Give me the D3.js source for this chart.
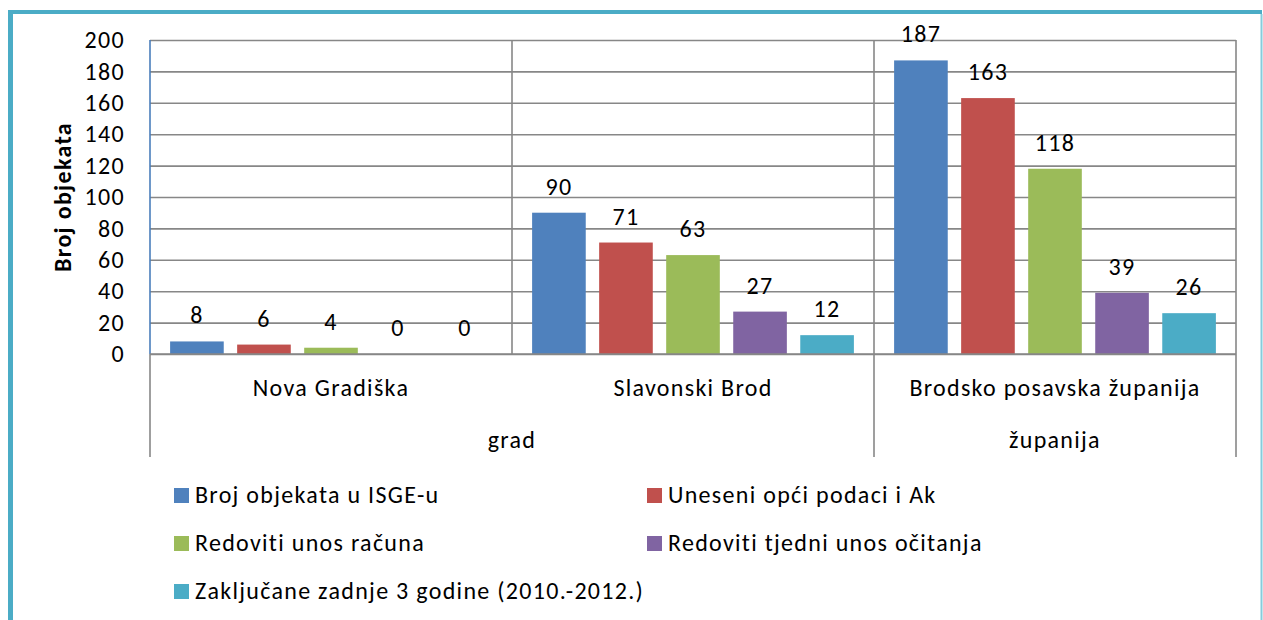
<!DOCTYPE html>
<html>
<head>
<meta charset="utf-8">
<script src="https://cdnjs.cloudflare.com/ajax/libs/d3/7.8.5/d3.min.js"></script>
<style>
  body { margin: 0; background: #fff; overflow: hidden; }
  svg { display: block; font-family: Carlito, Calibri, Lato, sans-serif; }
  svg text { font-size: 24px; letter-spacing: 1.3px; fill: #000; }
</style>
</head>
<body>
<div id="chart"></div>
<script>
const categories = ["Nova Gradiška", "Slavonski Brod", "Brodsko posavska županija"];
const categoryGroup = ["grad", "grad", "županija"];
const groupLabels = ["grad", "županija"];

const seriesNames = [
  "Broj objekata u ISGE-u",
  "Uneseni opći podaci i Ak",
  "Redoviti unos računa",
  "Redoviti tjedni unos očitanja",
  "Zaključane zadnje 3 godine (2010.-2012.)"
];
const seriesColors = ["#4F81BD", "#C0504D", "#9BBB59", "#8064A2", "#4BACC6"];

const brojObjekata   = [8, 90, 187];
const uneseniPodaci  = [6, 71, 163];
const unosRacuna     = [4, 63, 118];
const tjedniUnos     = [0, 27, 39];
const zakljucane     = [0, 12, 26];
const seriesValues = [brojObjekata, uneseniPodaci, unosRacuna, tjedniUnos, zakljucane];

const yTicks = [0, 20, 40, 60, 80, 100, 120, 140, 160, 180, 200];

const width = 1263, height = 620;
const margin = { top: 40, left: 150, right: 27 };
const baseY = 354, axisBottom = 457;
const gridColor = "#878787";

const svg = d3.select("#chart").append("svg")
  .attr("width", width)
  .attr("height", height);

// FRAME
svg.append("line").attr("x1", 10.5).attr("x2", 10.5).attr("y1", 10).attr("y2", height)
  .attr("stroke", "#4BACC6").attr("stroke-width", 5);
svg.append("line").attr("x1", 8).attr("x2", 1262).attr("y1", 12).attr("y2", 12)
  .attr("stroke", "#4BACC6").attr("stroke-width", 4);
svg.append("line").attr("x1", 1261.5).attr("x2", 1261.5).attr("y1", 14).attr("y2", height)
  .attr("stroke", "#86CCDC").attr("stroke-width", 2);

const x0 = d3.scaleBand()
  .domain(categories)
  .range([margin.left, width - margin.right]);

const x1 = d3.scaleBand()
  .domain(d3.range(seriesNames.length))
  .range([0, x0.bandwidth()])
  .paddingInner(0.2)
  .paddingOuter(0.3);

const y = d3.scaleLinear()
  .domain([0, 200])
  .range([baseY, margin.top]);

const plotW = width - margin.right - margin.left;

// GRID + Y AXIS
const yAxis = svg.append("g")
  .attr("transform", `translate(${margin.left},0)`)
  .call(d3.axisLeft(y).tickValues(yTicks).tickSize(-plotW).tickPadding(25));
yAxis.attr("font-family", null).attr("font-size", null);
yAxis.select(".domain").remove();
yAxis.selectAll(".tick line").attr("stroke", gridColor).attr("stroke-width", 1.6);
yAxis.selectAll(".tick text").attr("fill", "#000");

// VERTICAL LINES
const xEdges = [x0(categories[0]), x0(categories[1]), x0(categories[2]), x0(categories[2]) + x0.bandwidth()];
svg.append("line").attr("x1", xEdges[0]).attr("x2", xEdges[0]).attr("y1", baseY).attr("y2", axisBottom)
  .attr("stroke", gridColor).attr("stroke-width", 1.6);
svg.append("line").attr("x1", xEdges[0]).attr("x2", xEdges[0]).attr("y1", margin.top).attr("y2", baseY)
  .attr("stroke", "#4A7EBB").attr("stroke-width", 1.6);
svg.append("line").attr("x1", xEdges[1]).attr("x2", xEdges[1]).attr("y1", margin.top).attr("y2", baseY)
  .attr("stroke", gridColor).attr("stroke-width", 1.6);
[xEdges[2], xEdges[3]].forEach(xx => {
  svg.append("line").attr("x1", xx).attr("x2", xx).attr("y1", margin.top).attr("y2", axisBottom)
    .attr("stroke", gridColor).attr("stroke-width", 1.6);
});

// BARS
const bars = svg.append("g");
categories.forEach((c, ci) => {
  seriesValues.forEach((vals, si) => {
    const v = vals[ci];
    const bx = x0(c) + x1(si);
    bars.append("rect")
      .attr("x", bx)
      .attr("y", y(v))
      .attr("width", x1.bandwidth())
      .attr("height", baseY - y(v))
      .attr("fill", seriesColors[si]);
    bars.append("text")
      .attr("x", bx + x1.bandwidth() / 2)
      .attr("y", y(v) - 18)
      .attr("text-anchor", "middle")
      .text(v);
  });
});

// BASELINE
svg.append("line").attr("x1", xEdges[0]).attr("x2", xEdges[3]).attr("y1", baseY).attr("y2", baseY)
  .attr("stroke", gridColor).attr("stroke-width", 1.6);

// CATEGORY LABELS
svg.append("g").selectAll("text")
  .data(categories)
  .join("text")
  .attr("x", d => x0(d) + x0.bandwidth() / 2)
  .attr("y", 396)
  .attr("text-anchor", "middle")
  .text(d => d);

svg.append("g").selectAll("text")
  .data(groupLabels)
  .join("text")
  .attr("x", g => {
    const cs = categories.filter((c, i) => categoryGroup[i] === g);
    return (x0(cs[0]) + x0(cs[cs.length - 1]) + x0.bandwidth()) / 2;
  })
  .attr("y", 448)
  .attr("text-anchor", "middle")
  .text(d => d);

// Y TITLE
svg.append("text")
  .attr("transform", "translate(62,197) rotate(-90)")
  .attr("text-anchor", "middle")
  .attr("dominant-baseline", "central")
  .style("font-weight", "bold")
  .text("Broj objekata");

// LEGEND
const legend = svg.append("g").selectAll("g")
  .data(seriesNames)
  .join("g")
  .attr("transform", (d, i) => `translate(${i % 2 === 0 ? 174 : 647},${488 + Math.floor(i / 2) * 48})`);

legend.append("rect")
  .attr("width", 15).attr("height", 15)
  .attr("fill", (d, i) => seriesColors[i]);

legend.append("text")
  .attr("x", 21)
  .attr("y", 15)
  .text(d => d);
</script>
</body>
</html>
